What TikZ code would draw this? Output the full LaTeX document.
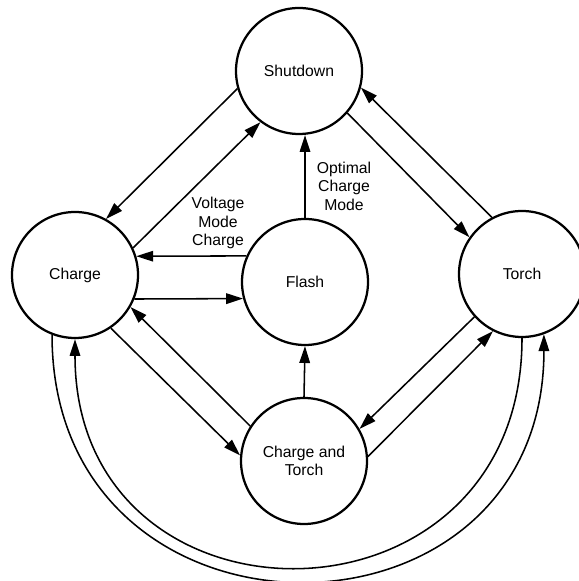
\documentclass[tikz,border=0pt]{standalone}
\usepackage{fontspec}
\setmainfont{Liberation Sans}
\usetikzlibrary{arrows.meta}

\begin{document}
\begin{tikzpicture}[font=\fontsize{11.2}{13.2}\selectfont,
    >={Triangle[length=12pt, width=7.5pt]},
    state/.style={draw, circle, line width=1.6pt, minimum size=3.15cm,
                  inner sep=0pt, align=center},
    trans/.style={->, line width=1.1pt}]

\useasboundingbox (0,0) rectangle (14.475,14.525);

\node[state] (shutdown) at (7.475, 12.75)  {Shutdown};
\node[state] (charge)   at (1.875,  7.65)  {Charge};
\node[state] (flash)    at (7.625,  7.475) {Flash};
\node[state] (torch)    at (13.05,  7.675) {Torch};
\node[state] (chtorch)  at (7.6,    3.0)   {Charge and\\Torch};

% shutdown <-> charge, shutdown <-> torch
\draw[trans] (shutdown.196) -- (charge.61);
\draw[trans] (charge.25)    -- (shutdown.233);
\draw[trans] (shutdown.319) -- (torch.145);
\draw[trans] (torch.118)    -- (shutdown.345);

% flash
\draw[trans] (flash.156)  -- (charge.17);
\draw[trans] (charge.338) -- (flash.195);
\draw[trans] (flash.north) -- (flash.north |- shutdown.south);
\draw[trans] (chtorch.north) -- (flash.south);

\node[align=center] (voltlabel) at (5.45, 8.95)  {Voltage\\Mode\\Charge};
\node[align=center] (optlabel)  at (8.6,  9.875) {Optimal\\Charge\\Mode};

% charge and torch
\draw[trans] (charge.304)  -- (chtorch.175);
\draw[trans] (chtorch.147) -- (charge.330);
\draw[trans] (torch.222)   -- (chtorch.30);
\draw[trans] (chtorch.4)   -- (torch.243);

% bottom loops
\draw[trans] (charge.249) .. controls +(0,-8.2) and +(0,-8.2) .. (torch.290);
\draw[trans] (torch.south) .. controls +(0,-7.6) and +(0,-7.6) .. (charge.south);

\end{tikzpicture}
\end{document}
